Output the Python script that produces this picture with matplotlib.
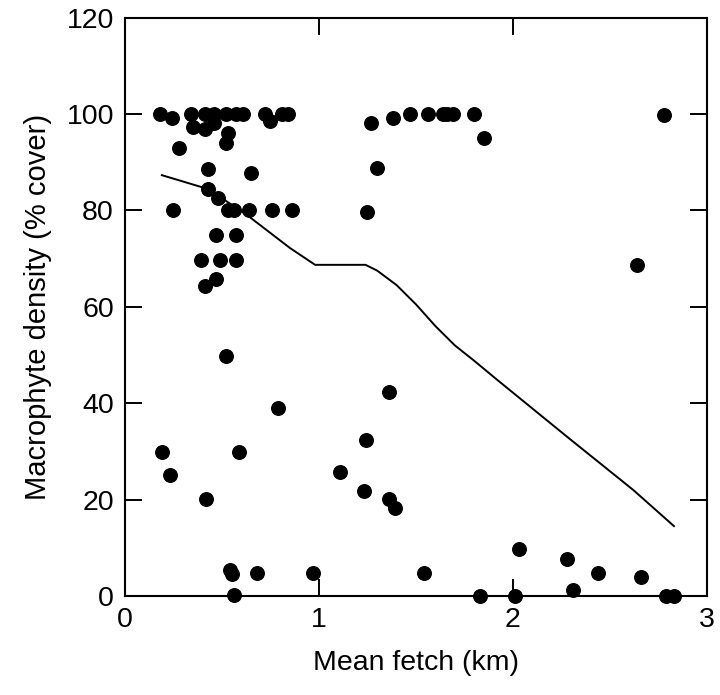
import matplotlib
matplotlib.use("Agg")
import matplotlib.pyplot as plt

plt.rcParams['font.family'] = ['Liberation Sans', 'DejaVu Sans']

# observed sites: mean fetch (km) vs macrophyte cover (%)
fetch = [
    0.18, 0.24, 0.34, 0.41, 0.46, 0.52, 0.57, 0.61, 0.72, 0.75, 0.81, 0.84,
    0.35, 0.41, 0.46, 0.53, 0.52, 0.28,
    1.27, 1.38, 1.47, 1.56, 1.64, 1.66, 1.69, 1.80, 1.85, 1.30, 1.25,
    2.78, 2.64,
    0.43, 0.65, 0.43, 0.48, 0.25, 0.53, 0.56, 0.64, 0.76, 0.86,
    0.47, 0.57, 0.39, 0.49, 0.57, 0.47, 0.41, 0.52, 0.79,
    0.19, 0.59, 0.23, 0.42, 0.54, 0.55, 0.68, 0.97, 0.56,
    1.36, 1.24, 1.11, 1.23, 1.36, 1.39, 1.54,
    1.83, 2.01, 2.03, 2.28, 2.31, 2.44, 2.66, 2.79, 2.83,
]
cover = [
    100, 99.2, 100, 100, 100, 100, 100, 100, 100, 98.5, 100, 100,
    97.3, 96.9, 98.1, 96.1, 94.0, 92.9,
    98.1, 99.2, 100, 100, 100, 100, 100, 100, 95.0, 88.8, 79.7,
    99.8, 68.7,
    88.6, 87.8, 84.4, 82.6, 80.1, 80.1, 80.1, 80.1, 80.1, 80.1,
    74.9, 74.9, 69.7, 69.7, 69.7, 65.8, 64.3, 49.8, 39.0,
    29.9, 29.9, 25.1, 20.1, 5.4, 4.6, 4.8, 4.8, 0.2,
    42.3, 32.4, 25.7, 21.8, 20.1, 18.3, 4.8,
    0, 0, 9.8, 7.7, 1.2, 4.8, 3.9, 0, 0,
]

# smoothed trend line
trend_x = [0.19, 0.43, 0.63, 0.85, 0.98, 1.24, 1.30, 1.40, 1.50, 1.60, 1.70,
           1.80, 1.92, 2.28, 2.62, 2.83]
trend_y = [87.3, 84.4, 79.0, 72.2, 68.7, 68.7, 67.5, 64.5, 60.5, 56.0, 52.0,
           48.8, 44.8, 33.0, 22.0, 14.5]

fig = plt.figure(figsize=(7.2, 6.95), dpi=100)
ax = fig.add_axes([0.1736, 0.1424, 0.8083, 0.8324])

ax.plot(trend_x, trend_y, color='black', lw=1.4)
ax.scatter(fetch, cover, s=95, color='black', zorder=3, clip_on=False)

ax.set_xlim(0, 3)
ax.set_ylim(0, 120)
ax.set_xticks([0, 1, 2, 3])
ax.set_yticks([0, 20, 40, 60, 80, 100, 120])
ax.tick_params(direction='in', length=12, width=1.4, labelsize=20.5,
               top=True, right=True, pad=8)
for s in ax.spines.values():
    s.set_linewidth(1.5)

ax.set_xlabel('Mean fetch (km)', fontsize=20.5, labelpad=12)
ax.set_ylabel('Macrophyte density (% cover)', fontsize=21, labelpad=10)

fig.savefig('out.png', dpi=100)
